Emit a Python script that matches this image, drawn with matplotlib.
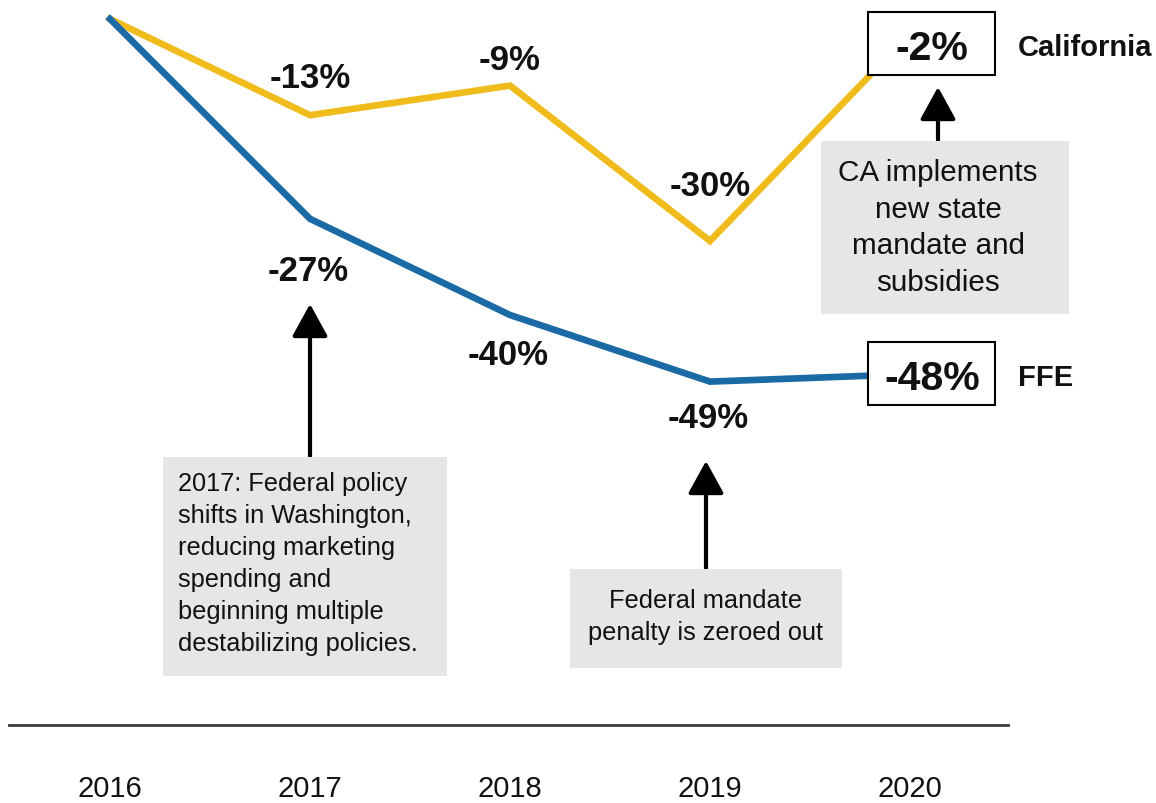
import matplotlib.pyplot as plt
import matplotlib.transforms as mtransforms
from matplotlib.patches import Rectangle

plt.rcParams['font.family'] = ['Liberation Sans', 'DejaVu Sans']

# Data
years = [2016, 2017, 2018, 2019, 2020]
california = [0, -13, -9, -30, -2]
ffe = [0, -27, -40, -49, -48]
cal_labels = ['-13%', '-9%', '-30%']
ffe_labels = ['-27%', '-40%', '-49%']

gold = '#F0BC1C'
blue = '#1A6AA6'
box_gray = '#E6E6E6'

fig = plt.figure(figsize=(11.56, 8.04), dpi=100)
W, H = 1156, 804
# axes spans pixel x 9..1008, y 0..726 (bottom spine is the baseline)
ax = fig.add_axes([9 / W, (H - 726) / H, 999 / W, 726 / H])
ax.set_xlim(2015.495, 2020.49)
ax.set_ylim(-95.4, 2.7)
for s in ['top', 'left', 'right']:
    ax.spines[s].set_visible(False)
ax.spines['bottom'].set_color('#3a3a3a')
ax.spines['bottom'].set_linewidth(2)
ax.set_yticks([])
ax.set_xticks(years)
ax.set_xticklabels([str(y) for y in years], fontsize=21, color='#111111')
ax.tick_params(axis='x', length=0, pad=35)

# pixel transform (origin top-left) for annotation layout
pix = mtransforms.Affine2D().scale(1 / W, -1 / H).translate(0, 1) + fig.transFigure

ax.plot(years, california, color=gold, lw=4.8, solid_joinstyle='miter', zorder=2, clip_on=False)
ax.plot(years, ffe, color=blue, lw=4.8, solid_joinstyle='miter', zorder=2, clip_on=False)

# value labels (baseline offsets in pixels)
cal_off = [28, 17, 46]
ffe_off = [-61, -49, -45]
for i, lab in enumerate(cal_labels):
    ax.annotate(lab, (years[i + 1], california[i + 1]), xytext=(0, cal_off[i]),
                textcoords='offset pixels', ha='center', va='baseline',
                fontsize=25, fontweight='bold', color='#111111')
for i, lab in enumerate(ffe_labels):
    ax.annotate(lab, (years[i + 1], ffe[i + 1]), xytext=(-2, ffe_off[i]),
                textcoords='offset pixels', ha='center', va='baseline',
                fontsize=25, fontweight='bold', color='#111111')

# end-value boxes
for y0, lab, name in [(13, '-2%', 'California'), (343, '-48%', 'FFE')]:
    fig.patches.append(Rectangle((868, y0), 127, 63, transform=pix, facecolor='white',
                                 edgecolor='black', lw=1.5, zorder=5))
    fig.text(932, y0 + 32, lab, transform=pix, ha='center', va='center_baseline',
             fontsize=29.5, fontweight='bold', color='#111111', zorder=6)
    fig.text(1018, y0 + 32, name, transform=pix, ha='left', va='center_baseline',
             fontsize=21, fontweight='bold', color='#111111', zorder=6)

# note boxes
fig.patches.append(Rectangle((163, 458), 284, 219, transform=pix, facecolor=box_gray,
                             edgecolor='none', zorder=1))
fig.text(178, 564, "2017: Federal policy\nshifts in Washington,\nreducing marketing\n"
         "spending and\nbeginning multiple\ndestabilizing policies.",
         transform=pix, ha='left', va='center', fontsize=18.3, linespacing=1.42,
         color='#111111')

fig.patches.append(Rectangle((570, 570), 272, 99, transform=pix, facecolor=box_gray,
                             edgecolor='none', zorder=1))
fig.text(706, 617, "Federal mandate\npenalty is zeroed out", transform=pix,
         ha='center', va='center', fontsize=18.3, linespacing=1.4, multialignment='center',
         color='#111111')

fig.patches.append(Rectangle((821, 142), 248, 173, transform=pix, facecolor=box_gray,
                             edgecolor='none', zorder=1))
fig.text(938, 228, "CA implements\nnew state\nmandate and\nsubsidies", transform=pix,
         ha='center', va='center', fontsize=21.3, linespacing=1.4, multialignment='center',
         color='#111111')

# arrows
arrow = dict(arrowstyle='-|>,head_length=1.0,head_width=0.55', mutation_scale=20,
             lw=3, color='black', shrinkA=0, shrinkB=0)
for x, tip, tail in [(310, 305, 458), (706, 462, 570), (938, 88, 142)]:
    ax.annotate('', xy=(x, tip), xytext=(x, tail), xycoords=pix, textcoords=pix,
                arrowprops=arrow, annotation_clip=False)

fig.savefig('out.png', dpi=100)
